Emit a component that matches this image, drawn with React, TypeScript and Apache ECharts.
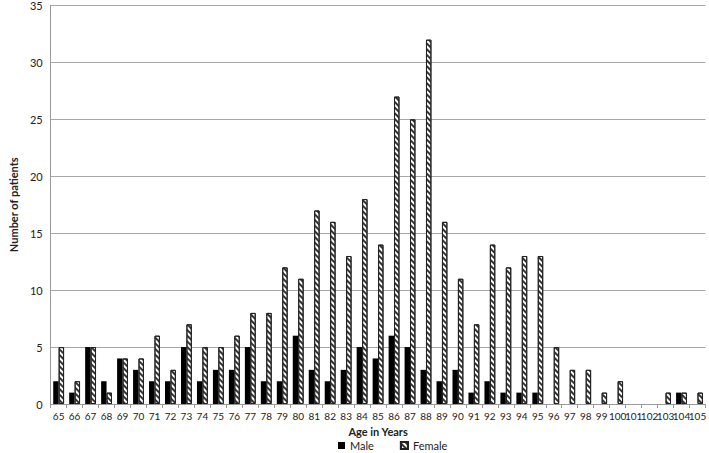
import React, { useEffect, useRef } from "react";
import * as echarts from "echarts";

const ages = [
  "65","66","67","68","69","70","71","72","73","74","75","76","77","78","79","80","81","82","83","84","85",
  "86","87","88","89","90","91","92","93","94","95","96","97","98","99","100","101","102","103","104","105",
];
const male = [2,1,5,2,4,3,2,2,5,2,3,3,5,2,2,6,3,2,3,5,4,6,5,3,2,3,1,2,1,1,1,0,0,0,0,0,0,0,0,1,0];
const female = [5,2,5,1,4,4,6,3,7,5,5,6,8,8,12,11,17,16,13,18,14,27,25,32,16,11,7,14,12,13,13,5,3,3,1,2,0,0,1,1,1];
const yTicks = [0, 5, 10, 15, 20, 25, 30, 35];

const FONT = "Lato, 'Open Sans', sans-serif";
const hideZero = (arr: number[]) => arr.map((v) => (v === 0 ? "-" : v));

export default function App() {
  const ref = useRef<HTMLDivElement>(null);
  useEffect(() => {
    document.body.style.margin = "0";
    const chart = echarts.init(ref.current!, null, { renderer: "svg" });
    chart.setOption({
      animation: false,
      textStyle: { fontFamily: FONT },
      grid: { left: 37, right: 2, top: 3, bottom: 49, containLabel: false },
      legend: {
        top: 440,
        left: 338,
        padding: 0,
        icon: "rect",
        itemWidth: 7,
        itemHeight: 7,
        itemGap: 26,
        textStyle: { fontFamily: FONT, fontSize: 11, color: "#222" },
        data: ["Male", "Female"],
      },
      xAxis: {
        type: "category",
        data: ages,
        name: "Age in Years",
        nameLocation: "middle",
        nameGap: 22,
        nameTextStyle: { fontFamily: FONT, fontSize: 11, fontWeight: "bold", color: "#222" },
        axisLine: { lineStyle: { color: "#999" } },
        axisTick: { show: true, alignWithLabel: false, length: 4, lineStyle: { color: "#999" } },
        axisLabel: { interval: 0, fontSize: 10, color: "#222", margin: 7 },
      },
      yAxis: {
        type: "value",
        min: yTicks[0],
        max: yTicks[yTicks.length - 1],
        interval: 5,
        name: "Number of patients",
        nameLocation: "middle",
        nameGap: 24,
        nameTextStyle: { fontFamily: FONT, fontSize: 11, fontWeight: "bold", color: "#222" },
        axisLine: { show: true, lineStyle: { color: "#999" } },
        axisTick: { show: false },
        axisLabel: { fontSize: 11, color: "#222", margin: 8 },
        splitLine: { lineStyle: { color: "#a6a6a6" } },
      },
      series: [
        {
          name: "Male",
          type: "bar",
          data: hideZero(male),
          barGap: "0%",
          barCategoryGap: "32%",
          itemStyle: { color: "#000" },
        },
        {
          name: "Female",
          type: "bar",
          data: hideZero(female),
          itemStyle: {
            color: "#fff",
            borderColor: "#222",
            borderWidth: 1,
            decal: {
              symbol: "rect",
              symbolSize: 1,
              color: "#333",
              backgroundColor: "#fff",
              dashArrayX: [1, 0],
              dashArrayY: [1.5, 1.5],
              rotation: Math.PI / 4,
            },
          },
        },
      ],
    });
    return () => chart.dispose();
  }, []);
  return <div ref={ref} style={{ width: 709, height: 453 }} />;
}
